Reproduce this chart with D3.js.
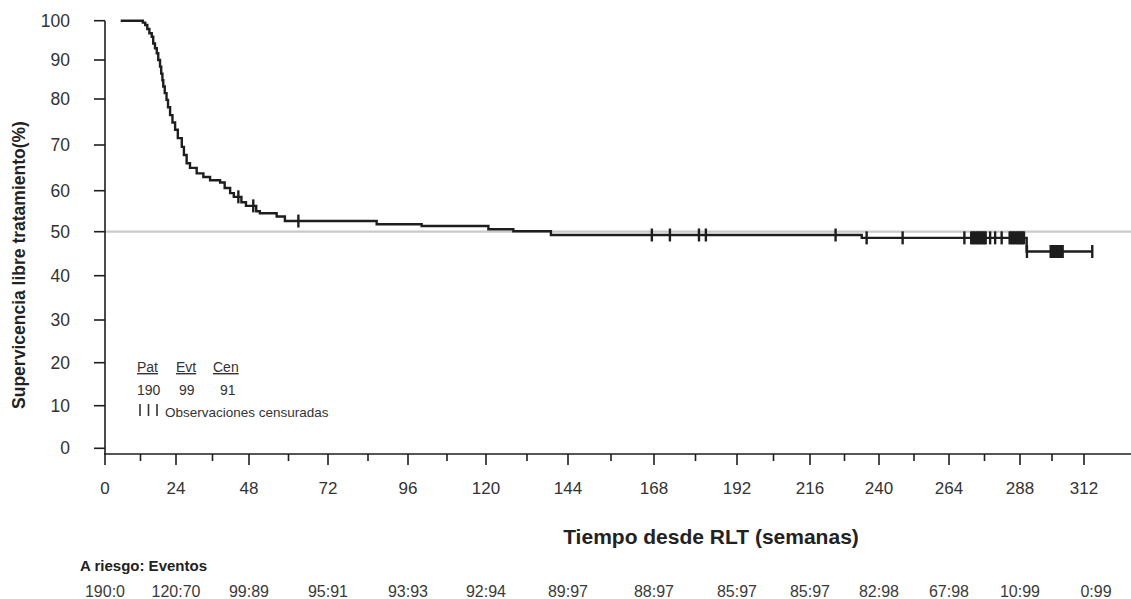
<!DOCTYPE html>
<html>
<head>
<meta charset="utf-8">
<script src="https://cdn.jsdelivr.net/npm/d3@7"></script>
<style>
  body { margin: 0; background: #fff; }
  svg { display: block; font-family: "Liberation Sans", Arial, sans-serif; }
</style>
</head>
<body>
<div id="chart"></div>
<script>
// tick values of both axes
const timeTicks = [0, 24, 48, 72, 96, 120, 144, 168, 192, 216, 240, 264, 288, 312];
const survTicks = [0, 10, 20, 30, 40, 50, 60, 70, 80, 90, 100];

// at risk : events under each time tick
const atRisk = ["190:0", "120:70", "99:89", "95:91", "93:93", "92:94", "89:97",
  "88:97", "85:97", "85:97", "82:98", "67:98", "10:99", "0:99"];

// Kaplan-Meier steps (weeks, % free of treatment)
const kmTime = [5.3, 11.8, 12.8, 13.6, 14.3, 15.0, 15.8, 16.3, 16.9, 17.5, 18.0, 18.6,
  19.0, 19.4, 19.7, 20.2, 20.8, 21.3, 22.0, 22.8, 23.7, 24.6, 25.9, 26.6, 27.5, 28.6,
  30.8, 33.0, 35.2, 38.5, 40.0, 41.8, 43.0, 45.5, 47.0, 50.2, 51.3, 56.4, 58.9,
  86.6, 100.2, 120.7, 128.0, 139.0, 234.0, 290.5, 315.1];
const kmSurv = [100, 100, 99.5, 98.9, 97.9, 96.8, 95.9, 94.2, 93.0, 91.7, 90.0, 88.3,
  86.5, 84.8, 83.2, 81.5, 79.8, 78.2, 76.5, 74.9, 73.3, 71.5, 69.6, 67.8, 66.0, 65.0,
  63.8, 63.0, 62.3, 61.8, 60.6, 59.4, 58.5, 57.2, 56.3, 55.0, 54.5, 53.7, 52.6,
  51.8, 51.4, 50.6, 50.1, 49.25, 48.6, 45.5, 45.5];

// censored observations (weeks)
const censorTime = [44.5, 49.3, 63.0, 167.4, 172.6, 181.0, 183.0, 224.9, 235.7, 248.1,
  269.2, 271.5, 272.0, 272.5, 273.0, 273.5, 274.0, 274.5, 275.0, 275.5, 276.0, 276.4,
  277.9, 279.6, 281.8, 284.5, 285.0, 285.5, 286.0, 286.5, 287.0, 287.5, 288.0, 288.5,
  289.0, 289.5, 290.6, 299.5, 300.0, 300.5, 301.0, 301.5, 302.0, 302.5, 303.0, 303.5,
  304.0, 315.1];

const legendHead = ["Pat", "Evt", "Cen"];
const legendVals = ["190", "99", "91"];

// layout (tick pixel positions follow the scanned original)
const W = 1131, H = 599;
const xPix = [105, 176, 249, 328, 408, 486, 568, 654, 737, 810, 879, 949, 1020, 1084];
const yPix = [448.3, 405.7, 362.7, 320, 275.7, 231.7, 190.7, 145, 99, 60, 20.7];
const axisY = 454, axisX = 105;

const svg = d3.select("#chart").append("svg")
  .attr("width", W).attr("height", H);

const x = d3.scaleLinear().domain(timeTicks).range(xPix);
const y = d3.scaleLinear().domain(survTicks).range(yPix);

const ink = "#1e1e1e";
const textCol = "#333";

// reference line at 50%
svg.append("line")
  .attr("x1", axisX).attr("x2", W)
  .attr("y1", y(50)).attr("y2", y(50))
  .attr("stroke", "#c9c9c9").attr("stroke-width", 2.2);

// y axis
svg.append("line")
  .attr("x1", axisX).attr("x2", axisX)
  .attr("y1", y(100)).attr("y2", axisY)
  .attr("stroke", ink).attr("stroke-width", 1.6);

svg.selectAll(".ytick")
  .data(survTicks)
  .enter()
  .append("line")
  .attr("x1", axisX - 11).attr("x2", axisX)
  .attr("y1", d => y(d)).attr("y2", d => y(d))
  .attr("stroke", ink).attr("stroke-width", 1.6);

svg.selectAll(".ylab")
  .data(survTicks)
  .enter()
  .append("text")
  .attr("x", 70)
  .attr("y", d => y(d))
  .attr("dy", "0.35em")
  .attr("text-anchor", "end")
  .style("font-size", "17.5px")
  .attr("fill", textCol)
  .text(d => d);

// x axis
svg.append("line")
  .attr("x1", axisX - 1).attr("x2", W)
  .attr("y1", axisY).attr("y2", axisY)
  .attr("stroke", ink).attr("stroke-width", 1.6);

svg.selectAll(".xtick")
  .data(timeTicks)
  .enter()
  .append("line")
  .attr("x1", d => x(d)).attr("x2", d => x(d))
  .attr("y1", axisY).attr("y2", axisY + 11)
  .attr("stroke", ink).attr("stroke-width", 1.6);

// minor ticks between the labelled ones
svg.selectAll(".xminor")
  .data(timeTicks.slice(0, -1))
  .enter()
  .append("line")
  .attr("x1", d => x(d + 12)).attr("x2", d => x(d + 12))
  .attr("y1", axisY).attr("y2", axisY + 7)
  .attr("stroke", ink).attr("stroke-width", 1.6);

svg.selectAll(".xlab")
  .data(timeTicks)
  .enter()
  .append("text")
  .attr("x", d => x(d))
  .attr("y", 494)
  .attr("text-anchor", "middle")
  .style("font-size", "17px")
  .attr("fill", textCol)
  .text(d => d);

// axis titles
svg.append("text")
  .attr("transform", "translate(25, 265) rotate(-90)")
  .attr("text-anchor", "middle")
  .style("font-size", "17.5px")
  .style("font-weight", "bold")
  .attr("fill", "#222")
  .text("Supervicencia libre tratamiento(%)");

svg.append("text")
  .attr("x", 711).attr("y", 544)
  .attr("text-anchor", "middle")
  .style("font-size", "21px")
  .style("font-weight", "bold")
  .attr("fill", "#222")
  .text("Tiempo desde RLT (semanas)");

// at risk row
svg.append("text")
  .attr("x", 80).attr("y", 571)
  .style("font-size", "15px")
  .style("font-weight", "bold")
  .attr("fill", "#222")
  .text("A riesgo: Eventos");

svg.selectAll(".risk")
  .data(atRisk)
  .enter()
  .append("text")
  .attr("x", (d, i) => x(timeTicks[i]) + (i === atRisk.length - 1 ? 12 : 0))
  .attr("y", 597)
  .attr("text-anchor", "middle")
  .style("font-size", "16px")
  .attr("fill", "#3a3a3a")
  .text(d => d);

// survival curve
const km = kmTime.map((t, i) => ({ t: t, s: kmSurv[i] }));
const line = d3.line()
  .x(d => x(d.t))
  .y(d => y(d.s))
  .curve(d3.curveStepAfter);

svg.append("path")
  .datum(km)
  .attr("d", line)
  .attr("fill", "none")
  .attr("stroke", ink)
  .attr("stroke-width", 2.4);

// censor marks sit on the curve level at their time
const survAt = t => {
  let s = kmSurv[0];
  for (let i = 0; i < kmTime.length; i++) {
    if (kmTime[i] <= t) s = kmSurv[i];
  }
  return s;
};

svg.selectAll(".cens")
  .data(censorTime)
  .enter()
  .append("line")
  .attr("x1", d => x(d)).attr("x2", d => x(d))
  .attr("y1", d => y(survAt(d)) - 6.5)
  .attr("y2", d => y(survAt(d)) + 6.5)
  .attr("stroke", ink)
  .attr("stroke-width", 2.4);

// legend
const legX = [137, 176, 213];
const legNumX = [137, 179, 220];

svg.selectAll(".lhead")
  .data(legendHead)
  .enter()
  .append("text")
  .attr("x", (d, i) => legX[i])
  .attr("y", 372)
  .style("font-size", "14px")
  .style("text-decoration", "underline")
  .attr("fill", textCol)
  .text(d => d);

svg.selectAll(".lval")
  .data(legendVals)
  .enter()
  .append("text")
  .attr("x", (d, i) => legNumX[i])
  .attr("y", 395)
  .style("font-size", "14px")
  .attr("fill", textCol)
  .text(d => d);

svg.selectAll(".lcens")
  .data([140, 148.5, 157])
  .enter()
  .append("line")
  .attr("x1", d => d).attr("x2", d => d)
  .attr("y1", 404).attr("y2", 416)
  .attr("stroke", "#333")
  .attr("stroke-width", 1.6);

svg.append("text")
  .attr("x", 165).attr("y", 417)
  .style("font-size", "13.5px")
  .attr("fill", textCol)
  .text("Observaciones censuradas");
</script>
</body>
</html>
